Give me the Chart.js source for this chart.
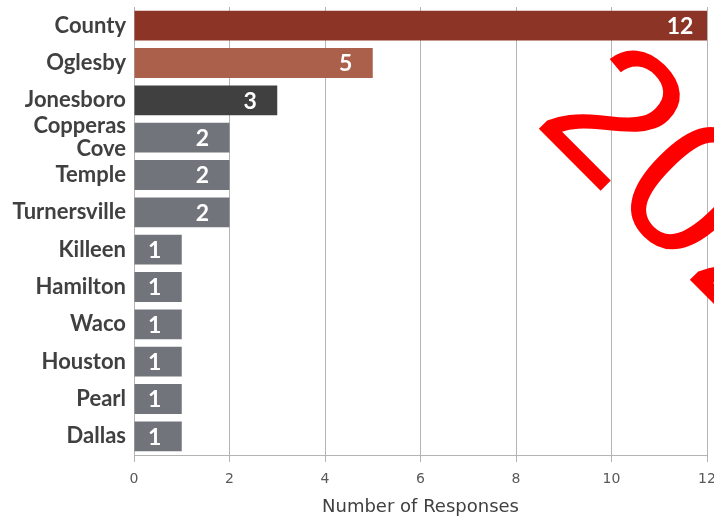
<!DOCTYPE html>
<html>
<head>
<meta charset="utf-8">
<script src="https://cdn.jsdelivr.net/npm/chart.js@4"></script>
<style>
  body { margin: 0; background: #fff; }
  #wrap { width: 714px; height: 520px; }
</style>
</head>
<body>
<div id="wrap"><canvas id="myChart" width="714" height="520"></canvas></div>
<script>
const cities = ['County', 'Oglesby', 'Jonesboro', ['Copperas', 'Cove'], 'Temple', 'Turnersville',
  'Killeen', 'Hamilton', 'Waco', 'Houston', 'Pearl', 'Dallas'];
const responses = [12, 5, 3, 2, 2, 2, 1, 1, 1, 1, 1, 1];
const barColors = ['#8c3425', '#ab604c', '#404040', '#72747b', '#72747b', '#72747b',
  '#72747b', '#72747b', '#72747b', '#72747b', '#72747b', '#72747b'];
const xTicks = [0, 2, 4, 6, 8, 10, 12];
const watermark = '2020';

const ctx = document.getElementById('myChart');

// white numbers near the end of each bar
const barLabels = {
  id: 'barLabels',
  afterDatasetsDraw(chart) {
    const c = chart.ctx;
    const meta = chart.getDatasetMeta(0);
    c.save();
    c.fillStyle = '#ffffff';
    c.font = 'bold 23px Lato';
    c.textAlign = 'center';
    c.textBaseline = 'middle';
    meta.data.forEach((bar, i) => {
      c.fillText(String(responses[i]), bar.x - 27, bar.y + 1);
    });
    c.restore();
  }
};

// the red rotated year stamped over the chart
const stamp = {
  id: 'stamp',
  afterDraw(chart) {
    const c = chart.ctx;
    c.save();
    c.translate(532, 122);
    c.rotate(Math.PI / 4);
    c.fillStyle = '#ff0000';
    c.font = '192px "Liberation Sans"';
    c.textBaseline = 'alphabetic';
    c.fillText(watermark, 0, 0);
    c.restore();
  }
};

new Chart(ctx, {
  type: 'bar',
  data: {
    labels: cities,
    datasets: [{
      data: responses,
      backgroundColor: barColors,
      barPercentage: 0.8,
      categoryPercentage: 1
    }]
  },
  options: {
    indexAxis: 'y',
    responsive: false,
    animation: false,
    layout: { padding: { top: 7, right: 7, left: 0, bottom: 0 } },
    plugins: {
      legend: { display: false },
      tooltip: { enabled: false }
    },
    scales: {
      x: {
        min: 0,
        max: 12,
        afterBuildTicks(scale) {
          scale.ticks = xTicks.map(v => ({ value: v }));
        },
        afterFit(scale) {
          scale.height = 65;
          scale.paddingRight = 0;
          scale.paddingLeft = 0;
        },
        grid: { color: '#b4b4b4', tickLength: 7 },
        border: { color: '#b4b4b4' },
        ticks: {
          color: '#595959',
          font: { family: 'DejaVu Sans', size: 14 },
          padding: 9,
          maxRotation: 0
        },
        title: {
          display: true,
          text: 'Number of Responses',
          color: '#404040',
          font: { family: 'DejaVu Sans', size: 18 },
          padding: { top: 4, bottom: 2 }
        }
      },
      y: {
        afterFit(scale) {
          scale.width = 134;
          scale.paddingTop = 0;
          scale.paddingBottom = 0;
        },
        grid: { display: false, drawTicks: false },
        border: { color: '#b4b4b4' },
        ticks: {
          autoSkip: false,
          color: '#404040',
          font: { family: 'Lato', size: 22, weight: 'bold', lineHeight: 1.05 },
          padding: 8
        }
      }
    }
  },
  plugins: [barLabels, stamp]
});
</script>
</body>
</html>
